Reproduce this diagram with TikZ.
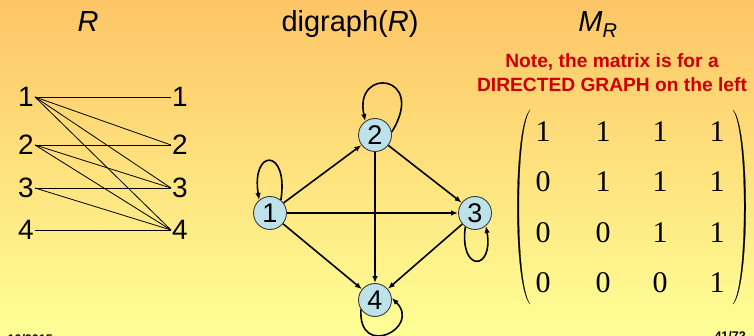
\documentclass[tikz,border=0pt]{standalone}
\usepackage{fontspec}
\setmainfont{Liberation Sans}
\newfontfamily\serifnum{Liberation Serif}
\usetikzlibrary{arrows.meta}
\definecolor{bgtop}{RGB}{253,197,102}
\definecolor{bgbot}{RGB}{255,255,150}
\definecolor{noteRed}{RGB}{204,0,0}
\definecolor{nodeFill}{RGB}{190,226,234}
\definecolor{nodeBorder}{RGB}{60,60,60}
\tikzset{
  title/.style={font=\fontsize{29}{32}\selectfont, anchor=base, inner sep=0pt},
  lab/.style={font=\fontsize{28}{30}\selectfont, inner sep=1pt},
  rel/.style={line width=0.8pt, black},
  vert/.style={circle, draw=nodeBorder, line width=0.9pt, fill=nodeFill,
    minimum size=33pt, inner sep=0pt, font=\fontsize{27}{29}\selectfont},
  arc/.style={line width=1.6pt, -{Latex[length=7pt,width=5.5pt]}},
  note/.style={font=\bfseries\fontsize{19.2}{22}\selectfont, text=noteRed, anchor=base, inner sep=0pt},
  entry/.style={font=\serifnum\fontsize{30}{32}\selectfont, inner sep=0pt},
  foot/.style={font=\bfseries\fontsize{12.5}{14}\selectfont, inner sep=0pt},
}
\begin{document}
\begin{tikzpicture}[x=1pt,y=-1pt]
\useasboundingbox (0,0) rectangle (754,336);
\shade[top color=bgtop, bottom color=bgbot] (0,0) rectangle (754,336);

% titles
\node[title] (tR) at (88,32) {\itshape R};
\node[title] (tD) at (350,32) {digraph(\textit{R})};
\node[title] (tM) at (598,32) {\itshape M\textsubscript{\fontsize{20}{22}\selectfont R}};

% note
\node[note] (n1l) at (612,68) {Note, the matrix is for a};
\node[note] (n2l) at (612,92) {DIRECTED GRAPH on the left};

% bipartite relation
\foreach \i/\y in {1/97,2/145,3/188,4/230}{
  \node[lab, anchor=east] (L\i) at (35,\y) {\i};
  \node[lab, anchor=west] (R\i) at (171,\y) {\i};
}
\foreach \a/\b in {1/1,1/2,1/3,1/4,2/2,2/3,2/4,3/3,3/4,4/4}{
  \draw[rel] (L\a.east) -- (R\b.west);
}

% digraph
\node[vert] (v1) at (270,213) {1};
\node[vert] (v2) at (375,135) {2};
\node[vert] (v3) at (475,213) {3};
\node[vert] (v4) at (375,300) {4};
\draw[arc] (v1) -- (v2);
\draw[arc] (v1) -- (v3);
\draw[arc] (v1) -- (v4);
\draw[arc] (v2) -- (v3);
\draw[arc] (v2) -- (v4);
\draw[arc] (v3) -- (v4);
\draw[arc] (v1.50) .. controls +(8,-52) and +(-8,-52) .. (v1.130);
\draw[arc] (v2.10) .. controls +(36,-58) and +(-12,-55) .. (v2.125);
\draw[arc] (v3.235) .. controls +(-6,46) and +(8,45) .. (v3.310);
\draw[arc] (v4.214) .. controls +(-3,50) and +(30,30) .. (v4.7);

% matrix
\foreach \r/\y/\vals in {1/132/{1,1,1,1},2/182/{0,1,1,1},3/233/{0,0,1,1},4/283/{0,0,0,1}}{
  \foreach \v [count=\c] in \vals {
    \pgfmathsetmacro\xx{{543,603,660,717}[\c-1]}
    \node[entry] (m\r\c) at (\xx,\y) {\v};
  }
}
\fill[line width=0.2pt, draw=black] (530,110) .. controls (513,128) and (513,286) .. (530,304)
   .. controls (515.2,286) and (515.2,128) .. (530,110) -- cycle;
\fill[line width=0.2pt, draw=black] (733,110) .. controls (750,128) and (750,286) .. (733,304)
   .. controls (747.8,286) and (747.8,128) .. (733,110) -- cycle;

% footers (cut off by the page edge, as in the reference)
\node[foot, anchor=base east] (fl) at (53,343) {10/2015};
\node[foot, anchor=base east] (fr) at (746,340) {41/72};
\end{tikzpicture}
\end{document}
